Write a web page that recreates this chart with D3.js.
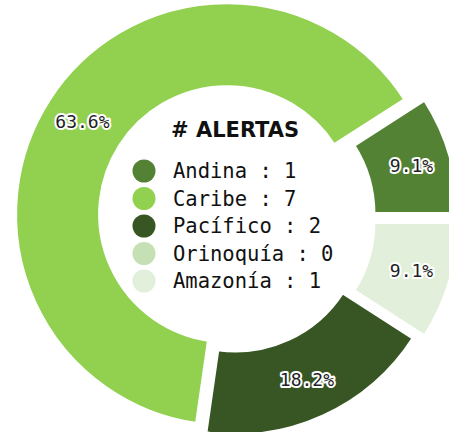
<!DOCTYPE html>
<html>
<head>
<meta charset="utf-8">
<script src="https://cdn.jsdelivr.net/npm/d3@7"></script>
<style>
  body { margin: 0; background: #fff; }
</style>
</head>
<body>
<script>
var regions = ["Andina", "Caribe", "Pacífico", "Orinoquía", "Amazonía"];
var alerts = [1, 7, 2, 0, 1];
var colors = ["#548235", "#92d050", "#375623", "#c5e0b4", "#e2efda"];
var legendTitle = "# ALERTAS";

var width = 449;
var height = 432;

// how far each wedge is pulled out from the centre
var explode = [14, 7, 6, 0, 14];

var svg = d3.select("body")
    .append("svg")
    .attr("width", width)
    .attr("height", height);

var g = svg.append("g")
    .attr("transform", "translate(233,218)");

var total = d3.sum(alerts);

var color = d3.scaleOrdinal()
    .domain(regions)
    .range(colors);

// counterclockwise from 3 o'clock, like the original
var pie = d3.pie()
    .sort(null)
    .value(function(d){ return d.value; })
    .startAngle(Math.PI / 2)
    .endAngle(Math.PI / 2 - 2 * Math.PI);

var data = regions.map(function(r, i){
    return {name: r, value: alerts[i], explode: explode[i]};
});

var arcs = pie(data).filter(function(a){ return a.data.value > 0; });

var arc = d3.arc()
    .innerRadius(127)
    .outerRadius(212);

var labelArc = d3.arc()
    .innerRadius(172)
    .outerRadius(172);

function shift(a){
    var mid = (a.startAngle + a.endAngle) / 2;
    var e = a.data.explode;
    return "translate(" + (Math.sin(mid) * e) + "," + (-Math.cos(mid) * e) + ")";
}

var slices = g.selectAll(".slice")
    .data(arcs)
    .enter()
    .append("g")
        .attr("class", "slice")
        .attr("transform", shift);

slices.append("path")
    .attr("d", arc)
    .attr("fill", function(d){ return color(d.data.name); })
    .attr("stroke", "#fff")
    .attr("stroke-width", 4);

slices.append("text")
    .attr("transform", function(d){
        return "translate(" + labelArc.centroid(d) + ")";
    })
    .attr("text-anchor", "middle")
    .attr("dy", "0.35em")
    .style("font-family", "'DejaVu Sans Mono', monospace")
    .style("font-size", "18px")
    .style("fill", "#1e1e24")
    .style("stroke", "#fff")
    .style("stroke-width", 4)
    .style("stroke-linejoin", "round")
    .style("paint-order", "stroke")
    .text(function(d){
        return (d.data.value / total * 100).toFixed(1) + "%";
    });

// legend in the hole
var legend = svg.append("g");

legend.append("text")
    .attr("x", 171)
    .attr("y", 137)
    .style("font-family", "'DejaVu Sans', sans-serif")
    .style("font-weight", "bold")
    .style("font-size", "21px")
    .style("fill", "#111")
    .text(legendTitle);

var rowY = d3.scalePoint()
    .domain(regions)
    .range([171, 281]);

var rows = legend.selectAll(".row")
    .data(data)
    .enter()
    .append("g")
        .attr("class", "row")
        .attr("transform", function(d){
            return "translate(0," + rowY(d.name) + ")";
        });

rows.append("circle")
    .attr("cx", 144)
    .attr("r", 11.5)
    .attr("fill", function(d){ return color(d.name); });

rows.append("text")
    .attr("x", 173)
    .attr("y", 7.4)
    .style("font-family", "'DejaVu Sans Mono', monospace")
    .style("font-size", "20.5px")
    .style("fill", "#111")
    .text(function(d){ return d.name + " : " + d.value; });
</script>
</body>
</html>
